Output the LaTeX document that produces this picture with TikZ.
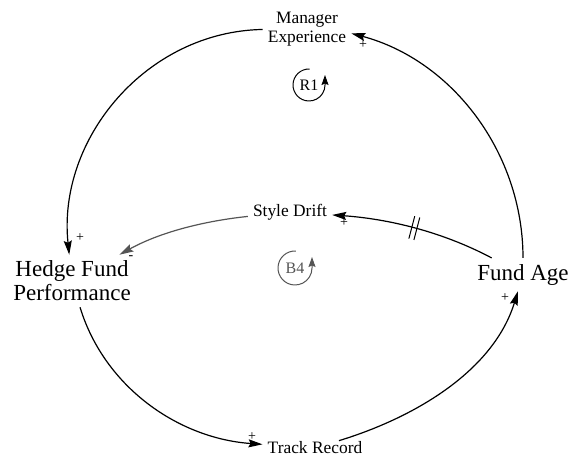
\documentclass[tikz,border=0pt]{standalone}
\usepackage{fontspec}
\setmainfont{Liberation Serif}
\usetikzlibrary{arrows.meta}
\definecolor{linkgray}{RGB}{85,85,85}

\begin{document}
\begin{tikzpicture}[x=1pt, y=1pt,
    var/.style={inner sep=5pt, align=center, font=\fontsize{17.4}{19}\selectfont},
    bigvar/.style={inner sep=6pt, align=center, font=\fontsize{23}{24}\selectfont},
    link/.style={-{Stealth[length=14pt,width=8pt,inset=2pt]}, line width=1.2pt},
    pol/.style={inner sep=0pt, font=\fontsize{14}{14}\selectfont},
    loopname/.style={inner sep=0pt, font=\fontsize{16}{16}\selectfont},
    looparrow/.style={-{Stealth[length=10pt,width=7pt,inset=1.5pt]}, line width=1pt},
    delay/.style={sloped, inner sep=0pt, minimum width=4pt, minimum height=22pt}
]
    \useasboundingbox (0,0) rectangle (569,457);

    % variables
    \node[var] (mgr) at (307,428.3) {Manager\\Experience};
    \node[bigvar] (perf) at (72,176) {Hedge Fund\\Performance};
    \node[var] (drift) at (290,245) {Style Drift};
    \node[bigvar] (age) at (523,182.4) {Fund Age};
    \node[var, inner ysep=1pt] (track) at (315,9) {Track Record};

    % links
    \draw[link] (mgr) to[out=181, in=96] (perf);
    \draw[link] (age) to[out=90, in=345, looseness=0.95] (mgr.-6);
    \draw[link] (perf) to[out=287, in=176, looseness=0.94] (track);
    \draw[link] (track) to[out=17, in=253, looseness=0.9] (age);
    \draw[link] (age) to[out=152, in=356, looseness=0.87]
        node[delay, pos=0.5] (dly) {} (drift);
    \draw[line width=1pt] (dly.north west) -- (dly.south west)
        (dly.north east) -- (dly.south east);
    \draw[link, linkgray] (drift) to[out=186, in=29, looseness=0.87] (perf);

    % polarities
    \node[pol] (s1) at (363,412) {+};
    \node[pol] (s2) at (80,219) {+};
    \node[pol] (s3) at (131,199) {-};
    \node[pol] (s4) at (344,234) {+};
    \node[pol] (s5) at (505,159) {+};
    \node[pol] (s6) at (252,20) {+};

    % loops
    \node[loopname] (r1) at (309,372) {R1};
    \draw[looparrow] ([shift={(88:16)}]r1.center) arc[start angle=88, end angle=360, radius=16]
        -- ++(0,10);
    \node[loopname, text=linkgray] (b4) at (295,189) {B4};
    \draw[looparrow, linkgray] ([shift={(87:17)}]b4.center) arc[start angle=87, end angle=360, radius=17]
        -- ++(0,11);
\end{tikzpicture}
\end{document}
